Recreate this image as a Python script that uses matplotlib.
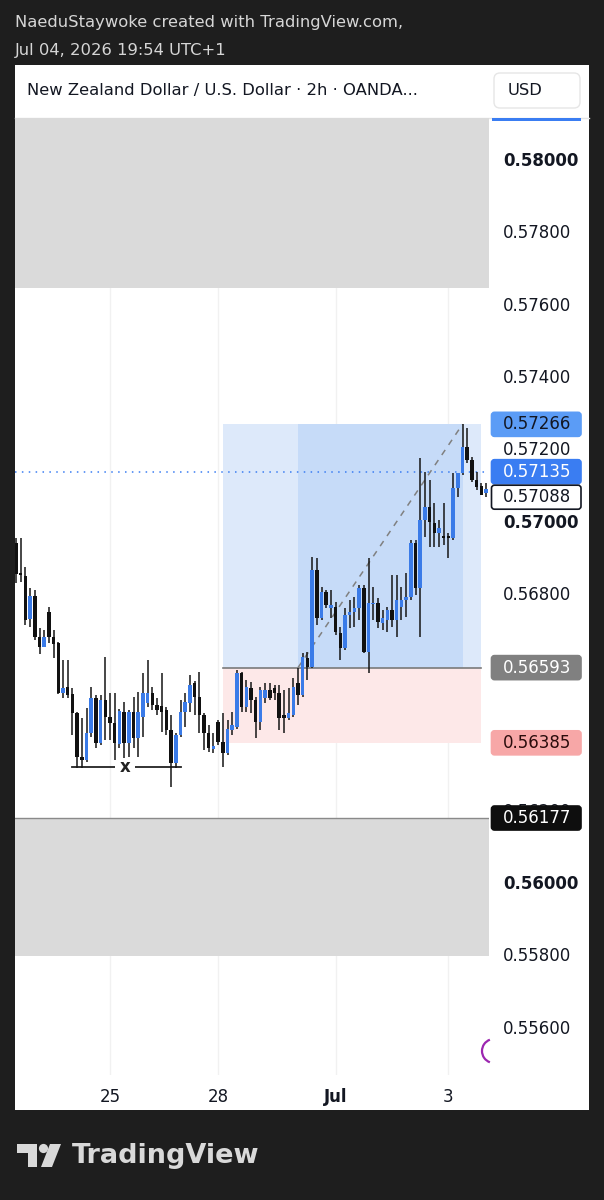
import matplotlib
matplotlib.use("Agg")
import matplotlib.pyplot as plt
from matplotlib.patches import Rectangle, FancyBboxPatch, Arc, Polygon, Circle

# ---------------- data (NZD/USD 2h candles) ----------------
opens = [0.56938, 0.56855, 0.56847, 0.56728, 0.56791, 0.56678, 0.56650, 0.56747, 0.56678, 0.56661,
         0.56523, 0.56540, 0.56520, 0.56468, 0.56346, 0.56338, 0.56412, 0.56509, 0.56385, 0.56504,
         0.56457, 0.56440, 0.56382, 0.56470, 0.56385, 0.56470, 0.56398, 0.56457, 0.56495, 0.56523,
         0.56490, 0.56487, 0.56476, 0.56421, 0.56329, 0.56407, 0.56470, 0.56495, 0.56551, 0.56512,
         0.56462, 0.56412, 0.56368, 0.56443, 0.56387, 0.56357, 0.56421, 0.56429, 0.56578, 0.56484,
         0.56537, 0.56504, 0.56443, 0.56509, 0.56531, 0.56537, 0.56523, 0.56462, 0.56454, 0.56462,
         0.56551, 0.56517, 0.56620, 0.56595, 0.56863, 0.56730, 0.56802, 0.56758, 0.56761, 0.56689,
         0.56647, 0.56739, 0.56747, 0.56758, 0.56813, 0.56636, 0.56769, 0.56772, 0.56717, 0.56725,
         0.56753, 0.56725, 0.56761, 0.56780, 0.56788, 0.56938, 0.56813, 0.57001, 0.57037, 0.56993,
         0.56965, 0.56954, 0.56954, 0.56952, 0.57090, 0.57131, 0.57203, 0.57167, 0.57112, 0.57096,
         0.57076]
highs = [0.56952, 0.56952, 0.56872, 0.56813, 0.56808, 0.56703, 0.56697, 0.56761, 0.56697, 0.56664,
         0.56614, 0.56614, 0.56537, 0.56470, 0.56454, 0.56481, 0.56540, 0.56517, 0.56517, 0.56623,
         0.56523, 0.56523, 0.56479, 0.56498, 0.56476, 0.56512, 0.56526, 0.56578, 0.56614, 0.56540,
         0.56509, 0.56578, 0.56484, 0.56462, 0.56412, 0.56504, 0.56523, 0.56573, 0.56556, 0.56581,
         0.56468, 0.56434, 0.56412, 0.56448, 0.56468, 0.56448, 0.56470, 0.56587, 0.56581, 0.56559,
         0.56553, 0.56512, 0.56540, 0.56551, 0.56551, 0.56545, 0.56545, 0.56531, 0.56537, 0.56564,
         0.56592, 0.56634, 0.56636, 0.56899, 0.56896, 0.56816, 0.56808, 0.56808, 0.56775, 0.56705,
         0.56758, 0.56780, 0.56788, 0.56822, 0.56822, 0.56896, 0.56816, 0.56786, 0.56753, 0.56761,
         0.56849, 0.56849, 0.56816, 0.56855, 0.56946, 0.56946, 0.57173, 0.57134, 0.57112, 0.57048,
         0.57001, 0.57048, 0.56965, 0.57131, 0.57131, 0.57266, 0.57256, 0.57176, 0.57134, 0.57104,
         0.57104]
lows = [0.56827, 0.56830, 0.56711, 0.56705, 0.56670, 0.56631, 0.56650, 0.56661, 0.56620, 0.56520,
        0.56509, 0.56509, 0.56407, 0.56316, 0.56316, 0.56332, 0.56401, 0.56371, 0.56379, 0.56393,
        0.56393, 0.56338, 0.56371, 0.56343, 0.56346, 0.56371, 0.56346, 0.56401, 0.56484, 0.56476,
        0.56462, 0.56415, 0.56407, 0.56263, 0.56316, 0.56401, 0.56429, 0.56470, 0.56462, 0.56412,
        0.56365, 0.56360, 0.56357, 0.56379, 0.56318, 0.56351, 0.56407, 0.56423, 0.56470, 0.56470,
        0.56468, 0.56398, 0.56421, 0.56495, 0.56504, 0.56504, 0.56421, 0.56412, 0.56448, 0.56457,
        0.56490, 0.56512, 0.56559, 0.56592, 0.56711, 0.56725, 0.56758, 0.56730, 0.56683, 0.56614,
        0.56642, 0.56703, 0.56705, 0.56725, 0.56634, 0.56578, 0.56725, 0.56703, 0.56697, 0.56692,
        0.56705, 0.56678, 0.56725, 0.56733, 0.56780, 0.56794, 0.56678, 0.56954, 0.56927, 0.56927,
        0.56927, 0.56932, 0.56896, 0.56946, 0.57065, 0.57126, 0.57159, 0.57107, 0.57084, 0.57071,
        0.57065]
closes = [0.56852, 0.56849, 0.56725, 0.56791, 0.56678, 0.56650, 0.56678, 0.56678, 0.56659, 0.56523,
          0.56537, 0.56517, 0.56468, 0.56346, 0.56338, 0.56412, 0.56509, 0.56385, 0.56504, 0.56457,
          0.56440, 0.56385, 0.56473, 0.56385, 0.56470, 0.56398, 0.56470, 0.56523, 0.56523, 0.56490,
          0.56476, 0.56470, 0.56421, 0.56329, 0.56407, 0.56470, 0.56498, 0.56545, 0.56512, 0.56462,
          0.56412, 0.56371, 0.56376, 0.56387, 0.56357, 0.56423, 0.56434, 0.56578, 0.56484, 0.56540,
          0.56504, 0.56443, 0.56531, 0.56531, 0.56509, 0.56523, 0.56454, 0.56454, 0.56468, 0.56540,
          0.56517, 0.56623, 0.56595, 0.56863, 0.56730, 0.56802, 0.56766, 0.56766, 0.56692, 0.56647,
          0.56739, 0.56747, 0.56758, 0.56813, 0.56636, 0.56772, 0.56772, 0.56719, 0.56730, 0.56753,
          0.56725, 0.56780, 0.56780, 0.56788, 0.56938, 0.56813, 0.57001, 0.57037, 0.56996, 0.56965,
          0.56979, 0.56952, 0.56952, 0.57090, 0.57131, 0.57203, 0.57167, 0.57112, 0.57093, 0.57071,
          0.57088]

# time axis (bar index where each day starts)
day_ticks = [20, 43, 68, 92]
day_labels = ["25", "28", "Jul", "3"]

# price axis (0.56600 / 0.56400 are hidden behind tags in the original)
price_ticks = [0.58000, 0.57800, 0.57600, 0.57400, 0.57200, 0.57000, 0.56800,
               0.56200, 0.56000, 0.55800, 0.55600]
bold_ticks = [0.58000, 0.57000, 0.56000]

# zones / position
supply_zone = (0.57643, 0.58400)
demand_zone = (0.55796, 0.56177)
entry_price, target_price, stop_price = 0.56593, 0.57266, 0.56385
pos_start, pos_end = 44, 99
active_start, active_end = 60, 95
marked_line_price = 0.57135
sweep_price, sweep_start, sweep_end, sweep_mark = 0.56318, 12, 35, 23.2

# axis tags: (price, text, face, text colour, edge)
tags = [
    (0.57266, "0.57266", "#5b9cf6", "#131722", "#5b9cf6"),
    (0.57135, "0.57135", "#3a7df2", "white", "#3a7df2"),
    (0.57088, "0.57088", "white", "#131722", "#131722"),
    (0.56593, "0.56593", "#808080", "white", "#808080"),
    (0.56385, "0.56385", "#f7a7a7", "#2a0c0c", "#f7a7a7"),
    (0.56177, "0.56177", "#0e0e0e", "white", "#0e0e0e"),
]

# ---------------- figure ----------------
W, H = 604, 1200
fig = plt.figure(figsize=(W / 100, H / 100), dpi=100, facecolor="#1e1e1e")
FONT = "DejaVu Sans"
FS = 12.0

bg = fig.add_axes([0, 0, 1, 1], zorder=0)
bg.set_xlim(0, W); bg.set_ylim(H, 0); bg.axis("off")
bg.add_patch(Rectangle((15, 65), 574, 1045, facecolor="white", edgecolor="none"))
bg.plot([15, 589], [118, 118], color="#e3e3e3", lw=1)
bg.text(15, 22, "NaeduStaywoke created with TradingView.com,", color="#d6d6d6",
        fontsize=11.8, va="center", ha="left", family=FONT)
bg.text(15, 50, "Jul 04, 2026 19:54 UTC+1", color="#d6d6d6",
        fontsize=11.8, va="center", ha="left", family=FONT)
bg.text(27, 91, "New Zealand Dollar / U.S. Dollar · 2h · OANDA...", color="#131722",
        fontsize=11.8, va="center", ha="left", family=FONT)
bg.add_patch(FancyBboxPatch((494, 73), 86, 35, boxstyle="round,pad=0,rounding_size=6",
                            facecolor="white", edgecolor="#e6e6e6", lw=1))
bg.text(508, 90.5, "USD", color="#131722", fontsize=11.8, va="center", ha="left", family=FONT)

# TradingView logo
logo_c = "#d9d9d9"
bg.add_patch(Polygon([(17, 1144), (37, 1144), (37, 1167), (27.5, 1167), (27.5, 1153), (17, 1153)],
                     closed=True, facecolor=logo_c, edgecolor="none"))
bg.add_patch(Circle((43.5, 1148.5), 4.6, facecolor=logo_c, edgecolor="none"))
bg.add_patch(Polygon([(50, 1144), (61, 1144), (52, 1167), (41, 1167)],
                     closed=True, facecolor=logo_c, edgecolor="none"))
bg.text(72, 1156, "TradingView", color=logo_c, fontsize=19.5, fontweight="bold",
        va="center", ha="left", family=FONT)

# main chart axes
px_per_bar = 4.70
x0_px = 16.0
left_px, right_px, top_px, bot_px = 15, 489, 118, 1075
ax = fig.add_axes([left_px / W, 1 - bot_px / H, (right_px - left_px) / W, (bot_px - top_px) / H],
                  zorder=2)
ax.set_facecolor("white")
xmin = (left_px - x0_px) / px_per_bar
xmax = (right_px - x0_px) / px_per_bar
ax.set_xlim(xmin, xmax)
ymax = 0.58 + (159 - top_px) / 36150
ymin = 0.58 - (bot_px - 159) / 36150
ax.set_ylim(ymin, ymax)
for s in ax.spines.values():
    s.set_visible(False)

# zones
ax.axhspan(supply_zone[0], supply_zone[1], color="#dadada", lw=0, zorder=0.5)
ax.axhspan(demand_zone[0], demand_zone[1], color="#dadada", lw=0, zorder=0.5)
ax.axhline(demand_zone[1], color="#8a8a8a", lw=1, zorder=0.6)

# position tool
ax.add_patch(Rectangle((pos_start, entry_price), pos_end - pos_start, target_price - entry_price,
                       facecolor="#dde9fa", edgecolor="none", zorder=0.7))
ax.add_patch(Rectangle((active_start, entry_price), active_end - active_start, target_price - entry_price,
                       facecolor="#c6dbf8", edgecolor="none", zorder=0.8))
ax.add_patch(Rectangle((pos_start, stop_price), pos_end - pos_start, entry_price - stop_price,
                       facecolor="#fde8e8", edgecolor="none", zorder=0.7))
ax.plot([pos_start, pos_end], [entry_price, entry_price], color="#7a7a7a", lw=1.2, zorder=0.9)
ax.plot([active_start, active_end], [entry_price, target_price], color="#808080", lw=1.1,
        ls=(0, (4, 4)), zorder=0.95)

# vertical faint grid at days
for t in day_ticks:
    ax.axvline(t, color="#f1f1f1", lw=1, zorder=0.3)

# marked dotted line
ax.axhline(marked_line_price, color="#3a7df2", lw=1.1, ls=(0, (1, 3.5)), zorder=1)

# sweep line with "x"
ax.plot([sweep_start, sweep_end], [sweep_price, sweep_price], color="#222222", lw=1.3, zorder=1.1)
ax.text(sweep_mark, sweep_price, "x", ha="center", va="center", fontsize=12, fontweight="bold",
        color="#222222", family=FONT, zorder=1.2,
        bbox=dict(boxstyle="square,pad=0.25", facecolor="white", edgecolor="none"))

# candles
blue, black = "#3a7be8", "#111111"
idx = list(range(len(opens)))
body_w = 0.76
min_h = 0.00004
for i, o, h, l, c in zip(idx, opens, highs, lows, closes):
    up = c >= o
    ax.vlines(i, l, h, color="#151515", lw=1.1, zorder=2)
    bottom = min(o, c)
    height = max(abs(c - o), min_h)
    ax.bar(i, height, bottom=bottom, width=body_w, color=blue if up else black,
           edgecolor="none", zorder=3)

# ticks
ax.yaxis.tick_right()
ax.set_yticks(price_ticks)
ax.set_yticklabels([f"{p:.5f}" for p in price_ticks])
ax.tick_params(axis="y", length=0, pad=10, labelsize=FS, labelcolor="#131722")
for lab, p in zip(ax.get_yticklabels(), price_ticks):
    lab.set_family(FONT)
    if any(abs(p - b) < 1e-9 for b in bold_ticks):
        lab.set_fontweight("bold")
ax.set_xticks(day_ticks)
ax.set_xticklabels(day_labels)
ax.tick_params(axis="x", length=0, pad=9, labelsize=FS, labelcolor="#131722")
for lab in ax.get_xticklabels():
    lab.set_family(FONT)
    if lab.get_text() == "Jul":
        lab.set_fontweight("bold")

# price axis overlay for tags
axp = fig.add_axes([right_px / W, 1 - bot_px / H, 100 / W, (bot_px - top_px) / H], zorder=3)
axp.set_xlim(0, 1); axp.set_ylim(ymin, ymax); axp.axis("off")
px_price = (ymax - ymin) / (bot_px - top_px)
tag_h = 24 * px_price
sep = 25.5 * px_price
prev = None
for p, txt, fc, tc, ec in sorted(tags, key=lambda t: -t[0]):
    cy = p
    if prev is not None and prev - cy < sep:
        cy = prev - sep
    prev = cy
    axp.add_patch(FancyBboxPatch((0.025, cy - tag_h / 2), 0.895, tag_h,
                                 boxstyle="round,pad=0,rounding_size=0.03",
                                 mutation_aspect=px_price * 100,
                                 facecolor=fc, edgecolor=ec, lw=1.2))
    axp.text(0.14, cy, txt, ha="left", va="center", color=tc, fontsize=FS, family=FONT)
# partially visible blue tag at the top edge
axp.add_patch(Rectangle((0.025, ymax - 3 * px_price), 0.895, 20 * px_price,
                        facecolor="#3a7df2", edgecolor="none", clip_on=True))

# overlay: purple arc
top = fig.add_axes([0, 0, 1, 1], zorder=4)
top.set_xlim(0, W); top.set_ylim(H, 0); top.axis("off")
top.add_patch(Arc((494, 1051), 24, 24, theta1=110, theta2=250, color="#9c27b0", lw=1.6))

fig.savefig("out.png", dpi=100, facecolor=fig.get_facecolor())
